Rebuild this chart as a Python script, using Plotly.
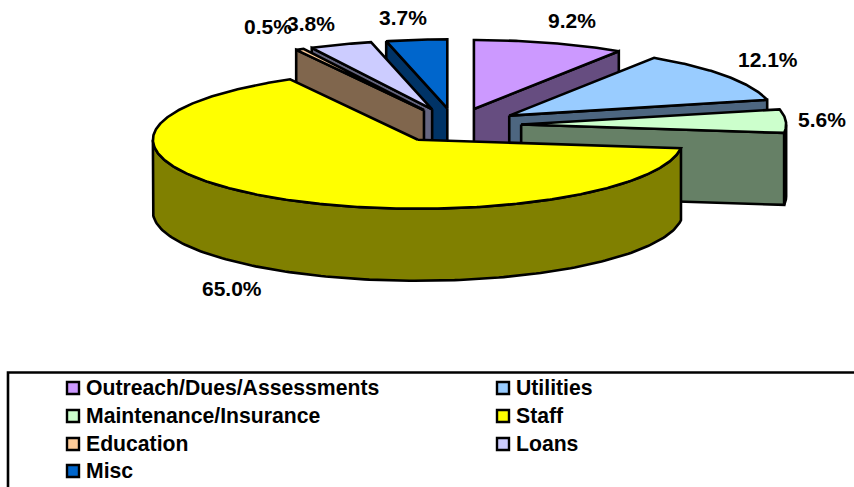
import numpy as np
import plotly.graph_objects as go

# --- data -------------------------------------------------------------
categories = ["Outreach/Dues/Assessments", "Utilities", "Maintenance/Insurance",
              "Staff", "Education", "Loans", "Misc"]
values = [9.2, 12.1, 5.6, 65.0, 0.5, 3.8, 3.7]

# --- style ------------------------------------------------------------
top_colors = ["#CC99FF", "#99CCFF", "#CCFFCC", "#FFFF00", "#FFCC99", "#CCCCFF", "#0066CC"]
side_colors = ["#664D80", "#4D6680", "#668066", "#808000", "#80664D", "#666680", "#003366"]
FONT = "Liberation Sans, Arial, sans-serif"
CX, CY, RX, RY, DEPTH, EXPLODE = 455, 125.5, 265, 69, 72, 0.25
paint_order = [0, 1, 2, 6, 5, 4, 3]
label_xy = {0: (572, 20), 1: (768, 59), 2: (822, 119), 3: (232, 288),
            4: (268, 26), 5: (311, 23), 6: (403, 17)}
legend_xy = {0: (73, 388), 1: (503, 388), 2: (73, 416), 3: (503, 416),
             4: (73, 444), 5: (503, 444), 6: (73, 471)}

fig = go.Figure()


def poly(xs, ys, color):
    fig.add_trace(go.Scatter(x=list(xs), y=list(ys), mode="lines", fill="toself",
                             fillcolor=color, line=dict(color="black", width=2.6),
                             showlegend=False, hoverinfo="skip"))


def point(ox, oy, deg):
    t = np.radians(deg)
    return ox + RX * np.sin(t), oy - RY * np.cos(t)


total = sum(values)
edges = np.concatenate([[0], np.cumsum(values)]) / total * 360

for i in paint_order:
    a0, a1 = edges[i], edges[i + 1]
    mid = np.radians((a0 + a1) / 2)
    ox = CX + EXPLODE * RX * np.sin(mid)
    oy = CY - EXPLODE * RY * np.cos(mid)
    # radial walls that face the viewer
    for a, visible in ((a0, np.sin(np.radians(a0)) < -1e-6),
                       (a1, np.sin(np.radians(a1)) > 1e-6)):
        if visible:
            px, py = point(ox, oy, a)
            poly([ox, px, px, ox, ox], [oy, py, py + DEPTH, oy + DEPTH, oy], side_colors[i])
    # outer curved wall
    w0, w1 = max(a0, 90), min(a1, 270)
    if w1 > w0:
        arc = np.linspace(w0, w1, 160)
        ax, ay = point(ox, oy, arc)
        poly(np.r_[ax, ax[::-1], ax[0]], np.r_[ay, ay[::-1] + DEPTH, ay[0]], side_colors[i])
    # top face
    arc = np.linspace(a0, a1, max(int(a1 - a0) * 2, 4))
    ax, ay = point(ox, oy, arc)
    poly(np.r_[ox, ax, ox], np.r_[oy, ay, oy], top_colors[i])

# value labels
for i in [4, 5, 6, 0, 1, 2, 3]:
    fig.add_annotation(x=label_xy[i][0], y=label_xy[i][1], text=f"<b>{values[i]:.1f}%</b>",
                       showarrow=False, xanchor="center", yanchor="middle",
                       font=dict(family=FONT, size=21, color="black"))

# legend
for i, name in enumerate(categories):
    lx, ly = legend_xy[i]
    fig.add_trace(go.Scatter(x=[lx], y=[ly], mode="markers",
                             marker=dict(symbol="square", size=12, color=top_colors[i],
                                         line=dict(color="black", width=2.4)),
                             showlegend=False, hoverinfo="skip"))
    fig.add_annotation(x=lx + 11, y=ly - 1, text=f"<b>{name}</b>", showarrow=False, xanchor="left",
                       yanchor="middle", font=dict(family=FONT, size=21.2, color="black"))

fig.add_shape(type="rect", x0=8, y0=372.5, x1=900, y1=520,
              line=dict(color="black", width=2.6), fillcolor="rgba(0,0,0,0)", layer="below")

fig.update_layout(width=854, height=487, margin=dict(l=0, r=0, t=0, b=0),
                  paper_bgcolor="white", plot_bgcolor="white", showlegend=False,
                  xaxis=dict(range=[0, 854], visible=False, fixedrange=True),
                  yaxis=dict(range=[487, 0], visible=False, fixedrange=True))

fig.write_html("out.html", config={"displayModeBar": False},
               post_script="document.body.style.margin='0';document.body.style.overflow='hidden';")
